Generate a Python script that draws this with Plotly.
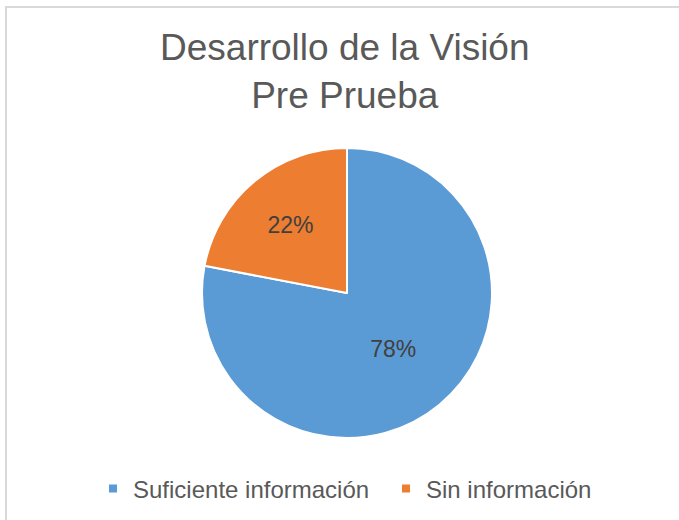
import plotly.graph_objects as go

labels = ["Suficiente información", "Sin información"]
values = [78, 22]
colors = ["#5B9BD5", "#ED7D31"]
title_lines = ["Desarrollo de la Visión", "Pre Prueba"]

W, H = 679, 520
cx, cy, r = 347, 293, 145
legend_marker_x = [113, 406]   # pixel x of each legend square
legend_y = 489

fig = go.Figure(go.Pie(
    labels=labels,
    values=values,
    sort=False,
    direction="clockwise",
    rotation=0,
    marker=dict(colors=colors, line=dict(color="white", width=2)),
    textinfo="percent",
    texttemplate="%{percent:.0%}",
    textposition="inside",
    insidetextorientation="horizontal",
    textfont=dict(family="Liberation Sans, Arial", size=23, color="#404040"),
    hoverinfo="label+percent",
    showlegend=False,
    domain=dict(x=[(cx - r) / W, (cx + r) / W], y=[1 - (cy + r) / H, 1 - (cy - r) / H]),
))

# legend entries (one legend per category so they can be spaced like the original)
for i, (lab, col) in enumerate(zip(labels, colors)):
    lname = "legend" if i == 0 else f"legend{i + 1}"
    fig.add_trace(go.Scatter(
        x=[None], y=[None], mode="markers", name=lab,
        marker=dict(symbol="square", size=8, color=col),
        showlegend=True, legend=lname, hoverinfo="skip",
    ))

legend_common = dict(
    orientation="h",
    xanchor="left", yanchor="middle",
    y=1 - legend_y / H,
    font=dict(family="Liberation Sans, Arial", size=24, color="#595959"),
    itemwidth=30,
    bgcolor="rgba(0,0,0,0)",
)

fig.update_layout(
    width=W, height=H,
    margin=dict(l=0, r=0, t=0, b=0),
    paper_bgcolor="white",
    plot_bgcolor="white",
    xaxis=dict(visible=False),
    yaxis=dict(visible=False),
    showlegend=True,
    legend=dict(x=(legend_marker_x[0] - 20) / W, **legend_common),
    legend2=dict(x=(legend_marker_x[1] - 20) / W, **legend_common),
    annotations=[dict(
        text="<br>".join(title_lines),
        x=345 / W, y=1 - 72 / H, xref="paper", yref="paper",
        xanchor="center", yanchor="middle", showarrow=False,
        font=dict(family="Liberation Sans, Arial", size=37, color="#595959"),
    )],
    shapes=[dict(
        type="rect", xref="paper", yref="paper",
        x0=6 / W, x1=1.05, y0=-0.05, y1=1 - 7 / H,
        line=dict(color="#D9D9D9", width=2), fillcolor="rgba(0,0,0,0)", layer="below",
    )],
)

fig.write_html(
    "out.html",
    config={"displayModeBar": False},
    post_script="document.body.style.margin='0px';document.body.style.overflow='hidden';",
)
